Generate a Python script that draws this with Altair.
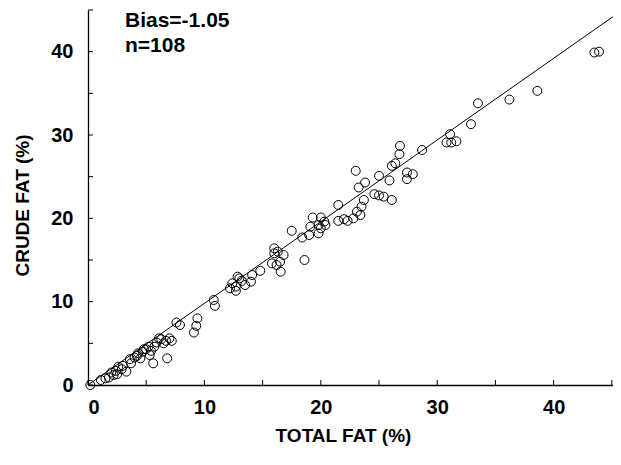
import altair as alt
import pandas as pd

total_fat = [0.2, 1.1, 1.5, 1.8, 2.2, 2.5, 2.4, 2.6, 2.0, 3.0, 3.3, 3.7, 3.6, 4.0, 4.3, 4.5, 4.7, 4.8, 5.0, 5.2,
             5.4, 5.3, 5.6, 5.7, 5.9, 6.1, 6.3, 6.5, 6.7, 6.8, 7.0, 7.2, 7.6, 7.9, 9.1, 9.3, 9.4,
             10.8, 10.9, 12.2, 12.4, 12.7, 12.7, 12.85, 13.2, 13.5, 14.0, 14.1, 14.8, 15.8, 16.0, 16.0, 16.2, 16.5,
             16.55, 16.8, 17.5, 18.4, 18.6, 19.0, 19.1, 19.8, 19.8,
             19.3, 20.0, 20.0, 20.4, 21.5, 21.5, 22.0, 22.3, 22.8, 23.1, 23.5, 23.7, 23.4, 23.0, 23.25, 23.8, 25.0,
             25.0, 25.4, 26.1, 25.9, 26.1, 26.4, 26.75, 26.8, 27.4, 27.9, 27.4, 28.7, 24.6,
             30.8, 31.2, 31.65, 31.1, 32.9, 33.5, 36.2, 38.6, 43.5, 43.9,
             16.3, 20.3, 2.9, 4.2, 13.0]
crude_fat = [0.0, 0.6, 0.8, 0.9, 1.2, 1.3, 1.7, 2.2, 1.5, 2.3, 1.6, 2.6, 3.1, 3.3, 3.8, 3.2, 4.0, 4.3, 4.3, 4.6,
             4.1, 3.6, 2.6, 4.6, 5.1, 5.6, 5.5, 5.0, 5.3, 3.2, 5.6, 5.3, 7.5, 7.2, 6.3, 7.1, 8.0,
             10.2, 9.5, 11.6, 12.2, 11.8, 11.3, 13.0, 12.5, 12.0, 12.4, 13.2, 13.7, 14.6, 16.4, 15.8, 14.4, 14.8,
             13.6, 15.6, 18.5, 17.7, 15.0, 18.0, 19.0, 18.2, 19.2,
             20.1, 20.1, 18.8, 19.2, 21.6, 19.7, 19.9, 19.7, 20.0, 20.8, 21.4, 22.2, 20.4, 25.7, 23.7, 24.3, 25.1,
             22.75, 22.6, 22.2, 24.55, 26.3, 26.6, 27.7, 28.7, 25.5, 25.3, 24.7, 28.2, 22.9,
             29.1, 29.1, 29.25, 30.1, 31.3, 33.8, 34.25, 35.3, 39.9, 40.0,
             16.0, 19.6, 1.9, 3.5, 12.8]

line_x = [0, 45.1]
line_y = [0, 44.2]
tick_values = [0, 5, 10, 15, 20, 25, 30, 35, 40, 45]
label_values = [0, 10, 20, 30, 40]
annotations = ["Bias=-1.05", "n=108"]

FONT = "Liberation Sans"

df = pd.DataFrame({"total": total_fat, "crude": crude_fat})
line_df = pd.DataFrame({"x": line_x, "y": line_y})
ticks_df = pd.DataFrame({"v": tick_values})

xscale = alt.Scale(domain=[0, 45.1], nice=False, zero=False)
yscale = alt.Scale(domain=[0, 45], nice=False, zero=False)

x_axis = alt.Axis(values=label_values, ticks=False, grid=False, domainColor="black", domainWidth=1.3,
                  labelFont=FONT, labelFontWeight="bold", labelFontSize=20, labelColor="black",
                  labelPadding=12, title="TOTAL FAT (%)", titleFont=FONT, titleFontWeight="bold",
                  titleFontSize=19, titleColor="black", titleX=255, titleY=50, titleBaseline="middle",
                  titleAlign="center")
y_axis = alt.Axis(values=label_values, ticks=False, grid=False, domainColor="black", domainWidth=1.3,
                  labelFont=FONT, labelFontWeight="bold", labelFontSize=20, labelColor="black",
                  labelPadding=15, title="CRUDE FAT (%)", titleFont=FONT, titleFontWeight="bold",
                  titleFontSize=19, titleColor="black", titleX=-66, titleY=195, titleBaseline="middle",
                  titleAlign="center", titleAngle=270)

line = alt.Chart(line_df).mark_line(color="black", strokeWidth=1, clip=True).encode(
    x=alt.X("x:Q", scale=xscale, axis=x_axis),
    y=alt.Y("y:Q", scale=yscale, axis=y_axis),
)

points = alt.Chart(df).mark_point(shape="circle", filled=False, stroke="black", strokeWidth=1,
                                  size=80, opacity=1).encode(
    x=alt.X("total:Q", scale=xscale, axis=x_axis),
    y=alt.Y("crude:Q", scale=yscale, axis=y_axis),
)

xticks = alt.Chart(ticks_df).mark_rule(color="black", strokeWidth=1).encode(
    x=alt.X("v:Q", scale=xscale, axis=x_axis),
    y=alt.value(375),
    y2=alt.value(370),
)
yticks = alt.Chart(ticks_df).mark_rule(color="black", strokeWidth=1).encode(
    y=alt.Y("v:Q", scale=yscale, axis=y_axis),
    x=alt.value(0),
    x2=alt.value(5),
)

ann_layers = []
for txt, ypos in zip(annotations, [10.5, 35.5]):
    ann_layers.append(
        alt.Chart(pd.DataFrame({"t": [txt]})).mark_text(
            font=FONT, fontWeight="bold", fontSize=21, color="black", align="left", baseline="middle"
        ).encode(text="t:N", x=alt.value(37), y=alt.value(ypos))
    )

chart = alt.layer(line, points, xticks, yticks, *ann_layers).properties(
    width=525, height=375,
    autosize=alt.AutoSizeParams(type="none"),
    padding={"left": 80, "top": 2, "right": 0, "bottom": 70},
    background="white",
).configure_view(stroke=None)

chart.save("out.html", embed_options={"renderer": "svg", "actions": False})
